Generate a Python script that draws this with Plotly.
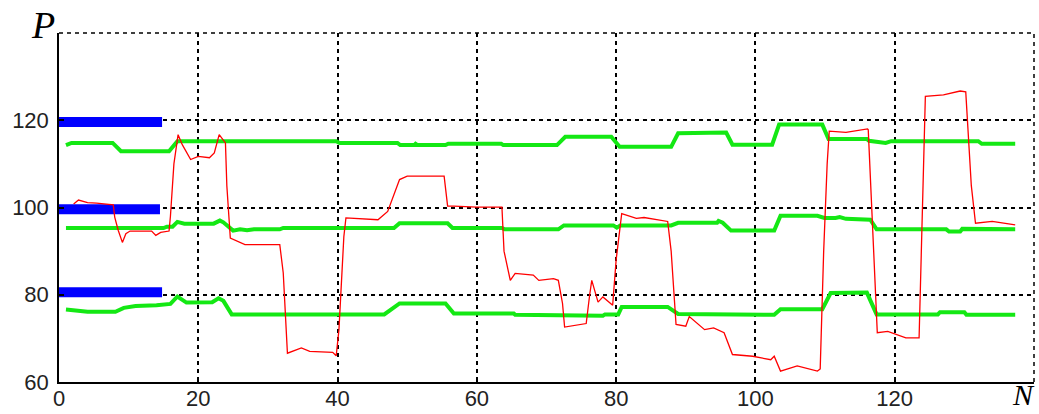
import plotly.graph_objects as go

# ---------------- data ----------------
red_n = [2.1, 2.8, 4.1, 5.4, 7.8, 8.0, 8.5, 9.1, 9.6, 10.2, 13.3, 13.9, 14.6, 15.8, 16.0, 16.5,
         17.1, 17.7, 18.9, 20.0, 21.6, 22.3, 23.0, 23.9, 24.1, 24.6, 26.7, 31.7, 32.2, 32.8,
         34.8, 36.0, 39.3, 39.8, 40.2, 40.6, 40.9, 41.2, 45.8, 47.2, 48.9, 50.0, 55.3, 55.8,
         56.7, 60.0, 63.6, 63.9, 64.8, 65.5, 68.1, 68.9, 71.0, 71.7, 72.3, 72.6, 75.7, 76.2,
         76.5, 77.4, 78.1, 79.5, 80.0, 80.8, 82.9, 84.0, 87.4, 87.9, 88.6, 90.0, 90.5, 92.7,
         94.0, 95.5, 96.7, 99.6, 102.2, 102.7, 103.6, 106.0, 108.9, 109.3, 109.8, 110.3,
         110.6, 113.0, 116.1, 116.2, 116.8, 117.5, 119.0, 121.6, 123.5, 123.9, 124.4, 127.0,
         129.4, 130.2, 131.0, 131.6, 134.0, 137.3]
red_p = [100.8, 101.7, 101.1, 101.0, 100.6, 97.8, 94.8, 92.0, 94.0, 94.6, 94.6, 93.6, 94.3, 94.6,
         98.0, 110.0, 116.7, 114.4, 111.0, 111.7, 111.4, 112.5, 116.7, 114.8, 105.0, 93.0,
         91.5, 91.5, 85.0, 66.6, 67.8, 67.0, 66.8, 66.0, 72.0, 83.0, 93.3, 97.6, 97.2, 99.1,
         106.4, 107.2, 107.2, 100.3, 100.3, 100.1, 100.1, 90.0, 83.3, 84.9, 84.5, 83.3, 83.7,
         83.3, 78.0, 72.6, 73.4, 80.0, 83.3, 78.3, 79.5, 77.6, 88.0, 98.6, 97.5, 97.7, 96.8,
         90.0, 73.2, 72.8, 75.0, 72.0, 72.4, 71.3, 66.3, 65.9, 65.1, 65.9, 62.5, 63.7, 62.5,
         63.0, 90.0, 110.0, 117.5, 117.2, 118.0, 117.8, 95.0, 71.3, 71.6, 70.1, 70.1, 95.0,
         125.5, 125.8, 126.7, 126.5, 105.0, 96.4, 96.8, 96.0]

g1_n = [1.0, 1.8, 7.7, 8.9, 15.8, 17.0, 39.8, 40.3, 48.6, 49.0, 51.0, 51.2, 51.5, 55.5, 55.9,
        63.5, 63.8, 71.5, 72.7, 79.3, 80.5, 87.9, 88.9, 92.7, 93.0, 95.8, 96.7, 102.4, 103.4,
        109.6, 110.5, 116.0, 116.3, 118.0, 118.7, 119.5, 132.0, 132.5, 137.3]
g1_p = [114.3, 114.8, 114.8, 112.9, 112.9, 115.2, 115.2, 114.8, 114.8, 114.3, 114.3, 114.6,
        114.3, 114.3, 114.6, 114.6, 114.3, 114.3, 116.2, 116.2, 113.9, 113.9, 117.0, 117.0,
        117.2, 117.2, 114.4, 114.4, 119.0, 119.0, 115.7, 115.7, 115.3, 115.0, 114.8, 115.2,
        115.2, 114.6, 114.6]

g2_n = [1.0, 15.0, 15.5, 16.3, 17.0, 18.0, 22.2, 23.1, 23.6, 25.0, 26.0, 27.0, 28.0, 31.7,
        32.2, 48.1, 48.9, 55.8, 56.5, 63.6, 64.0, 71.7, 72.5, 79.6, 80.1, 80.6, 87.9, 88.9,
        94.5, 94.7, 95.3, 96.5, 102.7, 103.6, 108.9, 109.9, 111.5, 112.1, 113.0, 116.5, 117.4,
        127.4, 127.8, 129.4, 129.7, 137.3]
g2_p = [95.3, 95.3, 95.6, 95.6, 96.7, 96.3, 96.3, 97.0, 96.6, 94.7, 95.0, 94.8, 95.0, 95.0,
        95.3, 95.3, 96.4, 96.4, 95.3, 95.3, 95.0, 95.0, 95.9, 95.9, 95.4, 95.9, 95.9, 96.5,
        96.5, 96.9, 96.5, 94.7, 94.7, 98.1, 98.1, 97.6, 97.6, 97.8, 97.4, 97.2, 95.0, 95.0,
        94.5, 94.5, 95.1, 95.0]

g3_n = [1.0, 4.1, 8.1, 9.3, 11.0, 13.5, 14.0, 16.0, 17.0, 18.3, 22.0, 22.9, 23.6, 24.8, 46.7,
        48.9, 55.5, 56.7, 65.3, 65.5, 75.8, 76.0, 78.1, 78.4, 80.3, 80.8, 87.4, 88.9, 95.0,
        95.3, 102.7, 103.6, 109.6, 110.8, 116.0, 117.4, 126.2, 126.5, 130.0, 130.3, 137.3]
g3_p = [76.6, 76.1, 76.1, 77.0, 77.4, 77.4, 77.6, 77.9, 79.6, 78.2, 78.3, 79.2, 78.6, 75.5,
        75.5, 78.0, 78.0, 75.7, 75.7, 75.4, 75.4, 75.2, 75.2, 75.5, 75.5, 77.2, 77.2, 75.6,
        75.6, 75.4, 75.4, 76.7, 76.7, 80.4, 80.5, 75.5, 75.5, 76.0, 76.0, 75.4, 75.4]

bar_levels = [119.6, 99.6, 80.6]
bar_start = [0, 0, 0]
bar_end = [14.8, 14.5, 14.8]

x_ticks = [0, 20, 40, 60, 80, 100, 120]
y_ticks = [60, 80, 100, 120]
x_range = [0, 140]
y_range = [60, 140]

# ---------------- figure ----------------
GREEN = "#14e814"
DASH = "4px,4px"
fig = go.Figure()

for lvl, s, e in zip(bar_levels, bar_start, bar_end):
    fig.add_trace(go.Scatter(x=[s, e], y=[lvl, lvl], mode="lines",
                             line=dict(color="#0000ff", width=10), hoverinfo="skip"))

for gn, gp in [(g1_n, g1_p), (g2_n, g2_p), (g3_n, g3_p)]:
    fig.add_trace(go.Scatter(x=gn, y=gp, mode="lines",
                             line=dict(color=GREEN, width=4)))

fig.add_trace(go.Scatter(x=red_n, y=red_p, mode="lines",
                         line=dict(color="#ff0000", width=1.3)))

tickfont = dict(family="Liberation Sans, Arial, sans-serif", size=22, color="#222222")
common = dict(showgrid=True, gridcolor="black", gridwidth=1.5, griddash=DASH,
              showline=True, linecolor="black", linewidth=1.5,
              ticks="inside", ticklen=5, tickcolor="black", tickwidth=1.5,
              tickfont=tickfont, zeroline=False, fixedrange=True, automargin=False)

fig.update_layout(
    width=1039, height=414,
    margin=dict(l=59, r=5, t=33, b=32, autoexpand=False),
    paper_bgcolor="white", plot_bgcolor="white",
    showlegend=False,
    xaxis=dict(range=x_range, tickvals=x_ticks, ticklabelstandoff=-4, **common),
    yaxis=dict(range=y_range, tickvals=y_ticks, ticklabelstandoff=4, **common),
    shapes=[
        dict(type="line", xref="paper", yref="paper", x0=0, x1=1, y0=1, y1=1,
             line=dict(color="black", width=1.5, dash=DASH)),
        dict(type="line", xref="paper", yref="paper", x0=1, x1=1, y0=0, y1=1,
             line=dict(color="black", width=1.5, dash=DASH)),
    ],
    annotations=[
        dict(text="<i>P</i>", xref="paper", yref="paper", x=-0.0164, y=1.022,
             xanchor="center", yanchor="middle", showarrow=False,
             font=dict(family="Liberation Serif, Times New Roman, serif", size=38, color="black")),
        dict(text="<i>N</i>", xref="paper", yref="paper", x=0.989, y=-0.0897,
             xanchor="center", yanchor="bottom", showarrow=False,
             font=dict(family="Liberation Serif, Times New Roman, serif", size=30, color="black")),
    ],
)

fig.write_html("out.html")
